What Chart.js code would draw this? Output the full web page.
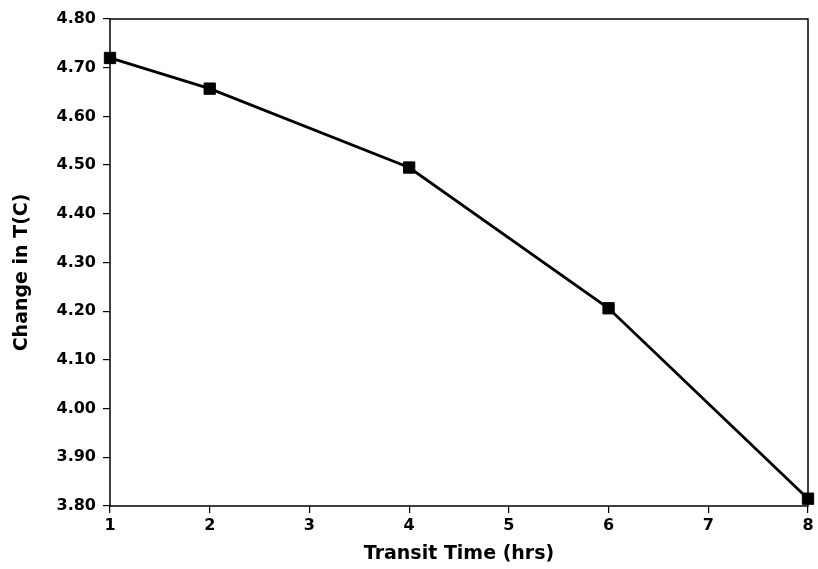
<!DOCTYPE html>
<html lang="en">
<head>
    <meta charset="UTF-8">
    <title>Change in T vs Transit Time</title>
    <style>
        html, body { margin: 0; padding: 0; background: #fff; }
        .chart-container { width: 818px; height: 569px; }
    </style>
</head>
<body>
    <div class="chart-container"><canvas id="chart" width="818" height="569"></canvas></div>

    <script src="https://cdn.jsdelivr.net/npm/chart.js"></script>
    <script>
        // values
        const transitHours = [1, 2, 4, 6, 8];
        const changeInT = [4.72, 4.657, 4.495, 4.206, 3.815];
        const xTicks = [1, 2, 3, 4, 5, 6, 7, 8];
        const yTicks = [3.8, 3.9, 4.0, 4.1, 4.2, 4.3, 4.4, 4.5, 4.6, 4.7, 4.8];

        const tickFont = { family: 'DejaVu Sans, sans-serif', size: 16, weight: 'bold' };
        const titleFont = { family: 'DejaVu Sans, sans-serif', size: 19, weight: 'bold' };

        // full box round the plot area
        const frame = {
            id: 'frame',
            afterDraw(chart) {
                const { ctx, chartArea: a } = chart;
                ctx.save();
                ctx.strokeStyle = '#000';
                ctx.lineWidth = 1.5;
                ctx.strokeRect(a.left, a.top, a.right - a.left, a.bottom - a.top);
                ctx.restore();
            }
        };

        new Chart(document.getElementById('chart'), {
            type: 'line',
            data: {
                datasets: [{
                    data: transitHours.map((x, i) => ({ x, y: changeInT[i] })),
                    borderColor: '#000',
                    backgroundColor: '#000',
                    borderWidth: 2.8,
                    pointStyle: 'rect',
                    pointRadius: 8,
                    pointBorderWidth: 1,
                    tension: 0,
                    clip: false
                }]
            },
            options: {
                responsive: false,
                animation: false,
                devicePixelRatio: 1,
                layout: { padding: { top: 19, right: 10, left: 11, bottom: 0 } },
                plugins: { legend: { display: false }, tooltip: { enabled: false } },
                scales: {
                    x: {
                        type: 'linear',
                        min: 1,
                        max: 8,
                        afterBuildTicks: s => { s.ticks = xTicks.map(v => ({ value: v })); },
                        afterFit: s => { s.height = 63; },
                        grid: { drawOnChartArea: false, drawTicks: true, tickLength: 7, color: '#000', lineWidth: 1.2 },
                        border: { display: false },
                        ticks: { color: '#000', font: tickFont, padding: 3, maxRotation: 0, autoSkip: false },
                        title: { display: true, text: 'Transit Time (hrs)', color: '#000', font: titleFont, padding: { top: 4, bottom: 4 } }
                    },
                    y: {
                        min: 3.8,
                        max: 4.8,
                        afterBuildTicks: s => { s.ticks = yTicks.map(v => ({ value: v })); },
                        afterFit: s => { s.width = 99; },
                        grid: { drawOnChartArea: false, drawTicks: true, tickLength: 7, color: '#000', lineWidth: 1.2 },
                        border: { display: false },
                        ticks: { color: '#000', font: tickFont, padding: 7, autoSkip: false, callback: v => v.toFixed(2) },
                        title: { display: true, text: 'Change in T(C)   ', color: '#000', font: titleFont, padding: { top: 0, bottom: 4 } }
                    }
                }
            },
            plugins: [frame]
        });
    </script>
</body>
</html>
